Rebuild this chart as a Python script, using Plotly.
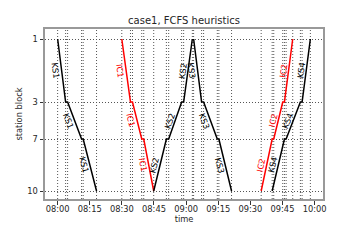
import math
from datetime import datetime, timedelta
import plotly.graph_objects as go

# ---------------- data ----------------
base_time = datetime(2024, 1, 1, 8, 0, 0)

station_blocks = ["1", "3", "7", "10"]
station_pos = [0.0, 6.3, 10.0, 15.2]          # position of each block along the line

# each train: blocks passed (arrive/depart pairs) and minutes after 08:00
ks1_blocks = ["1", "3", "3", "7", "7", "10"]
ks1_min = [0.0, 3.73, 4.66, 11.18, 11.93, 18.17]

ic1_blocks = ["1", "3", "3", "7", "7", "10"]
ic1_min = [29.96, 34.02, 34.95, 39.28, 40.21, 44.87]

ks2_blocks = ["10", "7", "7", "3", "3", "1"]
ks2_min = [44.87, 50.79, 51.86, 57.92, 58.85, 62.91]

ks3_blocks = ["1", "3", "3", "7", "7", "10"]
ks3_min = [63.51, 67.24, 68.17, 74.56, 75.30, 81.22]

ic2_blocks = ["10", "7", "7", "3", "3", "1"]
ic2_min = [95.06, 100.19, 100.93, 105.13, 105.92, 109.79]

ks4_blocks = ["10", "7", "7", "3", "3", "1"]
ks4_min = [100.19, 105.92, 106.71, 113.37, 114.17, 118.03]

trains = [
    ("KS1", ks1_blocks, ks1_min, "black"),
    ("IC1", ic1_blocks, ic1_min, "red"),
    ("KS2", ks2_blocks, ks2_min, "black"),
    ("KS3", ks3_blocks, ks3_min, "black"),
    ("IC2", ic2_blocks, ic2_min, "red"),
    ("KS4", ks4_blocks, ks4_min, "black"),
]

title_text = "case1, FCFS heuristics"
x_title = "time"
y_title = "station block"

# ---------------- layout geometry ----------------
W, H = 360, 240
ML, MR, MT, MB = 45, 37, 29, 41
plot_w = W - ML - MR
plot_h = H - MT - MB

all_min = sorted(set(m for _, _, mins, _ in trains for m in mins))
span = max(all_min) - min(all_min)
x_lo = min(all_min) - 0.05 * span
x_hi = max(all_min) + 0.05 * span
y_top, y_bot = -1.0, 16.0

px_per_min = plot_w / (x_hi - x_lo)
px_per_unit = plot_h / (y_bot - y_top)

pos_of = dict(zip(station_blocks, station_pos))
TXT = "#262626"


def t(m):
    return base_time + timedelta(minutes=m)


fig = go.Figure()

annotations = []
for name, blocks, mins, color in trains:
    ys = [pos_of[b] for b in blocks]
    fig.add_trace(go.Scatter(
        x=[t(m) for m in mins], y=ys, mode="lines",
        line=dict(color=color, width=1.5), showlegend=False, hoverinfo="skip",
    ))
    for i in range(0, len(mins) - 1, 2):
        m0, m1 = mins[i], mins[i + 1]
        y0, y1 = ys[i], ys[i + 1]
        dx = (m1 - m0) * px_per_min
        dy = (y1 - y0) * px_per_unit          # screen-down positive (reversed axis)
        ang = math.degrees(math.atan2(dy, dx))
        s = abs(math.sin(math.radians(ang)))
        annotations.append(dict(
            x=t((m0 + m1) / 2), y=(y0 + y1) / 2, xref="x", yref="y",
            text=name, showarrow=False, textangle=ang,
            xshift=-5.5 / max(s, 0.3), yshift=0,
            font=dict(size=8.3, color=color, family="DejaVu Sans"),
        ))

shapes = []
for m in all_min:
    shapes.append(dict(
        type="line", xref="x", yref="paper", x0=t(m), x1=t(m), y0=0, y1=1,
        line=dict(color="#555555", width=1, dash="1px,2px"), layer="below",
    ))

tick_vals = [t(15 * k) for k in range(9)]
tick_text = [t(15 * k).strftime("%H:%M") for k in range(9)]

fig.update_layout(
    width=W, height=H,
    margin=dict(l=ML, r=MR, t=MT, b=MB, pad=0),
    paper_bgcolor="white", plot_bgcolor="white",
    font=dict(family="DejaVu Sans", size=8.3, color=TXT),
    title=dict(text=title_text, x=0.5, xref="paper", xanchor="center",
               y=1 - 20 / H, yref="container", yanchor="middle",
               font=dict(size=10, color=TXT)),
    shapes=shapes,
    annotations=annotations,
    xaxis=dict(
        type="date", range=[t(x_lo), t(x_hi)],
        tickvals=tick_vals, ticktext=tick_text,
        showgrid=False, zeroline=False,
        showline=True, linecolor="#999999", linewidth=2, mirror=True,
        ticks="outside", ticklen=3.5, tickwidth=1, tickcolor="#333333",
        tickfont=dict(size=8.3, color=TXT), ticklabelstandoff=-2,
        title=dict(text=x_title, font=dict(size=8.3, color=TXT), standoff=3),
    ),
    yaxis=dict(
        range=[y_bot, y_top],
        tickvals=station_pos, ticktext=station_blocks,
        showgrid=True, gridcolor="#555555", gridwidth=1, griddash="1px,2px",
        zeroline=False,
        showline=True, linecolor="#999999", linewidth=2, mirror=True,
        ticks="outside", ticklen=3.5, tickwidth=1, tickcolor="#333333",
        tickfont=dict(size=8.3, color=TXT),
        title=dict(text=y_title, font=dict(size=8.3, color=TXT), standoff=3),
    ),
)

fig.write_html(
    "out.html",
    config={"displayModeBar": False},
    post_script="document.body.style.margin='0';document.body.style.padding='0';",
)
